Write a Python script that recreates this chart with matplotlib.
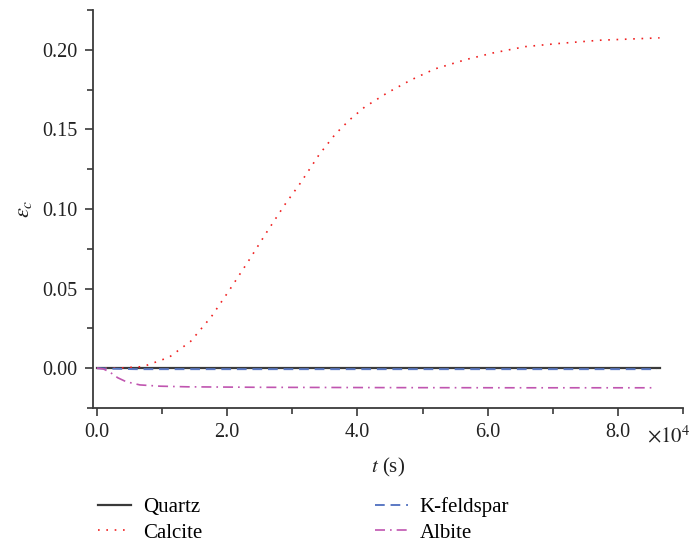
import numpy as np
import matplotlib.pyplot as plt
from matplotlib.ticker import MultipleLocator, FuncFormatter

plt.rcParams['font.family'] = ['Liberation Serif', 'DejaVu Serif']
plt.rcParams['mathtext.fontset'] = 'stix'

# tiempo (s) y deformacion
t_calcite = [0, 3000, 7100, 11100, 14400, 17600, 20500, 23300, 26100, 28900, 31200,
             34100, 36600, 38800, 41100, 44600, 48200, 51900, 56800, 60800, 65800,
             71000, 77200, 86400]
eps_calcite = [0.0, 0.0, 0.001, 0.0069, 0.0169, 0.0325, 0.050, 0.0675, 0.0856, 0.103,
               0.116, 0.134, 0.147, 0.156, 0.164, 0.173, 0.181, 0.188, 0.194, 0.198,
               0.202, 0.204, 0.206, 0.2075]

t_quartz = [0, 86400]
eps_quartz = [0.0, 0.0]

t_kfeld = [0, 2000, 6000, 86000]
eps_kfeld = [0.0, -0.0003, -0.0006, -0.0006]

t_albite = [0, 1000, 2000, 3200, 4500, 6600, 9700, 14000, 25000, 45000, 65000, 85800]
eps_albite = [0.0, -0.0005, -0.0025, -0.006, -0.0085, -0.0105, -0.0113, -0.0117,
              -0.012, -0.0122, -0.0123, -0.0123]

fig = plt.figure(figsize=(6.91, 5.42), dpi=100)
ax = fig.add_axes([93/691, (542-408)/542, (683-93)/691, (408-10)/542])

ax.plot(t_quartz, eps_quartz, color='#3a3a3a', lw=1.6, label='Quartz')
ax.plot(t_calcite, eps_calcite, color='#f02020', lw=1.2, ls=(0, (1, 4)), label='Calcite')
ax.plot(t_kfeld, eps_kfeld, color='#5b79c4', lw=1.4, ls=(0, (5, 3)), label='K-feldspar')
ax.plot(t_albite, eps_albite, color='#c055b0', lw=1.2, ls=(0, (6, 3, 1, 3)), label='Albite')

ax.set_xlim(-600, 90000)
ax.set_ylim(-0.025, 0.225)
ax.xaxis.set_major_locator(MultipleLocator(20000))
ax.xaxis.set_minor_locator(MultipleLocator(10000))
ax.yaxis.set_major_locator(MultipleLocator(0.05))
ax.yaxis.set_minor_locator(MultipleLocator(0.025))
ax.xaxis.set_major_formatter(FuncFormatter(lambda v, p: '%.1f' % (v / 1e4)))
ax.yaxis.set_major_formatter(FuncFormatter(lambda v, p: '%.2f' % v))

for s in ['top', 'right']:
    ax.spines[s].set_visible(False)
for s in ['left', 'bottom']:
    ax.spines[s].set_color('#3a3a3a')
    ax.spines[s].set_linewidth(1.3)
ax.tick_params(which='major', length=6, width=1.2, color='#3a3a3a', labelsize=14.5,
               labelcolor='#222222', pad=5)
ax.tick_params(which='minor', length=4, width=1.2, color='#3a3a3a')

fig.text(690/691, 1 - 437/542, r'$\times 10^4$', fontsize=15,
         ha='right', va='center', color='#222222')

ax.set_xlabel(r'$t$ (s)', fontsize=15, color='#222222', labelpad=10)
ax.set_ylabel(r'$\epsilon_c$', fontsize=16, color='#222222', labelpad=6)

fig.legend(loc='upper left', bbox_to_anchor=(98/691, 1 - 497/542), ncol=2,
           frameon=False, fontsize=15, handlelength=1.6, handletextpad=0.55,
           columnspacing=8.3, labelspacing=0.3, borderaxespad=0, borderpad=0)

fig.savefig('out.png', dpi=100)
